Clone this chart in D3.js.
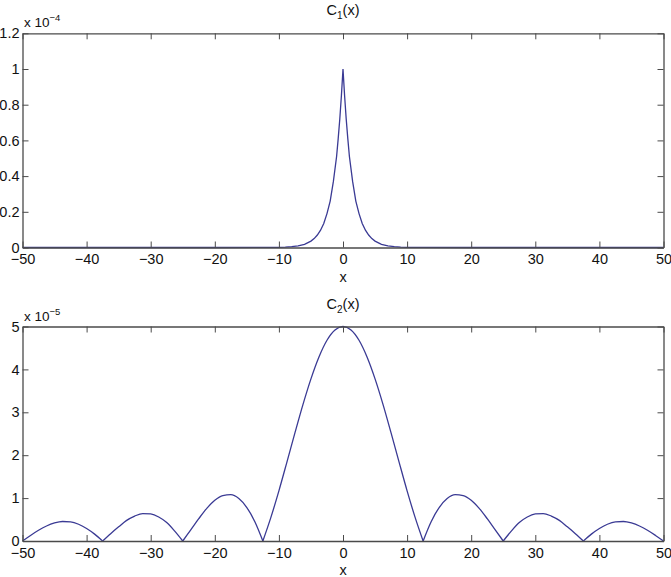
<!DOCTYPE html>
<html>
<head>
<meta charset="utf-8">
<script src="https://cdn.jsdelivr.net/npm/d3@7"></script>
<style>
  body { margin: 0; background: #fff; }
  svg { display: block; }
  text { font-family: "Liberation Sans", Arial, Helvetica, sans-serif; fill: #111; }
</style>
</head>
<body>
<div id="chart-area"></div>
<script>
// C1(x), values in units of 1e-4
const X_C1 = [-50, -20, -12, -10, -9, -8, -7, -6, -5, -4.5, -4, -3.5, -3, -2.5, -2, -1.5, -1, -0.75, -0.5, -0.25,
  0, 0.25, 0.5, 0.75, 1, 1.5, 2, 2.5, 3, 3.5, 4, 4.5, 5, 6, 7, 8, 9, 10, 12, 20, 50]
const C1_VALUES = [0, 0, 0.0003, 0.0012, 0.0025, 0.005, 0.009, 0.018, 0.036, 0.05, 0.07, 0.097, 0.135, 0.19, 0.26, 0.37, 0.51, 0.61, 0.72, 0.85,
  1.0, 0.85, 0.72, 0.61, 0.51, 0.37, 0.26, 0.19, 0.135, 0.097, 0.07, 0.05, 0.036, 0.018, 0.009, 0.005, 0.0025, 0.0012, 0.0003, 0, 0]

// C2(x), values in units of 1e-5
const X_C2 = [-50, -48.75, -47.5, -46.25, -45, -43.75, -42.5, -41.25, -40, -38.75,
  -37.5, -36.25, -35, -33.75, -32.5, -31.25, -30, -28.75, -27.5, -26.25,
  -25, -23.75, -22.5, -21.25, -20, -18.75, -17.5, -16.25, -15, -13.75,
  -12.5, -11.25, -10, -8.75, -7.5, -6.25, -5, -3.75, -2.5, -1.25,
  0, 1.25, 2.5, 3.75, 5, 6.25, 7.5, 8.75, 10, 11.25,
  12.5, 13.75, 15, 16.25, 17.5, 18.75, 20, 21.25, 22.5, 23.75,
  25, 26.25, 27.5, 28.75, 30, 31.25, 32.5, 33.75, 35, 36.25,
  37.5, 38.75, 40, 41.25, 42.5, 43.75, 45, 46.25, 47.5, 48.75, 50]
const C2_VALUES = [0, 0.13, 0.25, 0.35, 0.42, 0.455, 0.445, 0.39, 0.29, 0.16,
  0, 0.17, 0.33, 0.48, 0.58, 0.64, 0.63, 0.56, 0.43, 0.23,
  0, 0.26, 0.52, 0.76, 0.95, 1.06, 1.08, 0.99, 0.78, 0.45,
  0, 0.55, 1.17, 1.84, 2.52, 3.18, 3.78, 4.29, 4.68, 4.92,
  5.0, 4.92, 4.68, 4.29, 3.78, 3.18, 2.52, 1.84, 1.17, 0.55,
  0, 0.45, 0.78, 0.99, 1.08, 1.06, 0.95, 0.76, 0.52, 0.26,
  0, 0.23, 0.43, 0.56, 0.63, 0.64, 0.58, 0.48, 0.33, 0.17,
  0, 0.16, 0.29, 0.39, 0.445, 0.455, 0.42, 0.35, 0.25, 0.13, 0]

const X_TICKS = [-50, -40, -30, -20, -10, 0, 10, 20, 30, 40, 50]
const Y1_TICKS = [0, 0.2, 0.4, 0.6, 0.8, 1, 1.2]
const Y2_TICKS = [0, 1, 2, 3, 4, 5]

const WIDTH = 671
const HEIGHT = 577
const LEFT = 22.5
const RIGHT = 663.5
const LINE_COLOR = "#3a3a94"
const AXIS_COLOR = "#4a4a4a"
const FONT = 14.5

const svg = d3.select("#chart-area")
  .append("svg")
  .attr("width", WIDTH)
  .attr("height", HEIGHT)

const x = d3.scaleLinear().domain([-50, 50]).range([LEFT, RIGHT])

function drawPanel(top, bottom, xs, ys, yMax, yTicks, sub, exponent, smooth) {
  const y = d3.scaleLinear().domain([0, yMax]).range([bottom, top])
  const g = svg.append("g")

  // the curve
  let segments = []
  if (smooth) {
    // split at the zeros so the cusps stay sharp
    let cur = []
    xs.forEach((xv, i) => {
      cur.push([xv, ys[i]])
      if (ys[i] === 0 && cur.length > 1) {
        segments.push(cur)
        cur = [[xv, ys[i]]]
      }
    })
    if (cur.length > 1) segments.push(cur)
  } else {
    segments = [xs.map((xv, i) => [xv, ys[i]])]
  }
  const line = d3.line()
    .x(d => x(d[0]))
    .y(d => y(d[1]))
    .curve(smooth ? d3.curveMonotoneX : d3.curveLinear)

  g.selectAll("path.curve").data(segments).enter()
    .append("path")
    .attr("class", "curve")
    .attr("d", line)
    .attr("fill", "none")
    .attr("stroke", LINE_COLOR)
    .attr("stroke-width", 1.3)

  // axes, ticks pointing inwards like matlab
  const bottomAxis = g.append("g")
    .attr("transform", `translate(0,${bottom})`)
    .call(d3.axisBottom(x).tickValues(X_TICKS).tickSize(-6).tickSizeOuter(0).tickPadding(6.5)
      .tickFormat(d => d < 0 ? "\u2212" + Math.abs(d) : d))
  const topAxis = g.append("g")
    .attr("transform", `translate(0,${top})`)
    .call(d3.axisTop(x).tickValues(X_TICKS).tickSize(-6).tickSizeOuter(0).tickFormat(""))
  const leftAxis = g.append("g")
    .attr("transform", `translate(${LEFT},0)`)
    .call(d3.axisLeft(y).tickValues(yTicks).tickSize(-6).tickSizeOuter(0).tickPadding(3)
      .tickFormat(d3.format("~g")))
  const rightAxis = g.append("g")
    .attr("transform", `translate(${RIGHT},0)`)
    .call(d3.axisRight(y).tickValues(yTicks).tickSize(-6).tickSizeOuter(0).tickFormat(""))

  ;[bottomAxis, topAxis, leftAxis, rightAxis].forEach(a => {
    a.select(".domain").attr("stroke", AXIS_COLOR).attr("stroke-width", 1.3)
    a.selectAll(".tick line").attr("stroke", AXIS_COLOR).attr("stroke-width", 1)
    a.selectAll(".tick text")
      .style("font-family", '"Liberation Sans", Arial, sans-serif')
      .style("font-size", FONT + "px")
      .attr("fill", "#111")
  })

  // title
  const title = g.append("text")
    .attr("x", (LEFT + RIGHT) / 2)
    .attr("y", top - 18)
    .attr("text-anchor", "middle")
    .style("font-size", FONT + "px")
  title.append("tspan").text("C")
  title.append("tspan").attr("dy", 4).style("font-size", "10px").text(sub)
  title.append("tspan").attr("dy", -4).text("(x)")

  // x label
  g.append("text")
    .attr("x", (LEFT + RIGHT) / 2)
    .attr("y", bottom + 34)
    .attr("text-anchor", "middle")
    .style("font-size", FONT + "px")
    .text("x")

  // exponent
  const expo = g.append("text")
    .attr("x", LEFT + 1.5)
    .attr("y", top - 6)
    .style("font-size", "13.5px")
  expo.append("tspan").text("x 10")
  expo.append("tspan").attr("dy", -6).style("font-size", "9.5px").text(exponent)
}

drawPanel(33.3, 247.5, X_C1, C1_VALUES, 1.2, Y1_TICKS, "1", "\u22124", false)
drawPanel(326.5, 541, X_C2, C2_VALUES, 5, Y2_TICKS, "2", "\u22125", true)
</script>
</body>
</html>
